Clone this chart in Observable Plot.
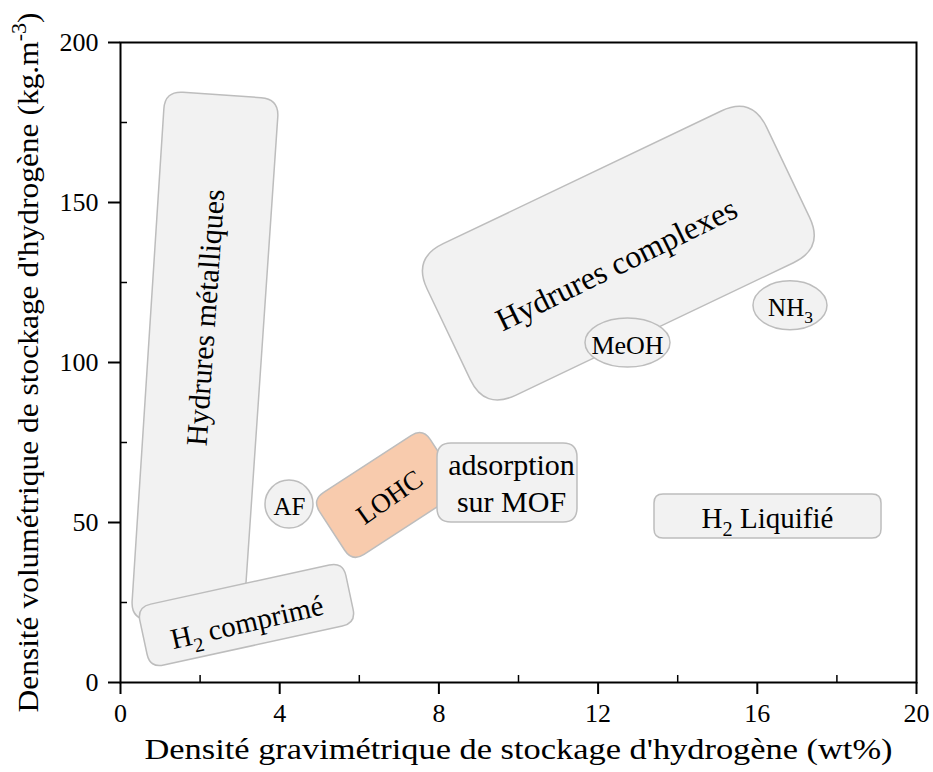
<!DOCTYPE html>
<html>
<head>
<meta charset="utf-8">
<script src="https://cdn.jsdelivr.net/npm/d3@7"></script>
<script src="https://cdn.jsdelivr.net/npm/@observablehq/plot@0.6"></script>
<style>
  body { margin: 0; background: #fff; }
</style>
</head>
<body>
<div id="chart"></div>
<script>
// ---- axis ticks ----
const xMajorTicks = [0, 4, 8, 12, 16, 20];
const xMinorTicks = [2, 6, 10, 14, 18];
const yMajorTicks = [0, 50, 100, 150, 200];
const yMinorTicks = [25, 75, 125, 175];

const xAxisLabel = "Densité gravimétrique de stockage d'hydrogène (wt%)";
const yAxisLabel = "Densité volumétrique de stockage d'hydrogène (kg.m^{-3})";

// ---- regions (rounded, possibly tilted rectangles): four corners in data units ----
const regionNames = ["Hydrures métalliques", "H2 comprimé", "Hydrures complexes", "LOHC", "adsorption sur MOF", "H2 Liquifié"];
const regionCornersX = [
  [1.131, 3.995, 3.090, 0.276],
  [0.427, 5.603, 5.930, 0.754],
  [7.349, 15.877, 17.693, 9.166],
  [4.822, 7.606, 8.621, 5.837],
  [7.965, 11.482, 11.482, 7.965],
  [13.417, 19.121, 19.121, 13.417]
];
const regionCornersY = [
  [184.7, 182.2, 17.2, 19.7],
  [23.4, 37.5, 18.4, 4.4],
  [132.4, 183.0, 135.6, 85.0],
  [56.9, 79.4, 60.0, 37.5],
  [74.7, 74.7, 50.0, 50.0],
  [58.75, 58.75, 45.0, 45.0]
];

// ---- elliptical regions: centre and half-extent in data units ----
const ellipseNames = ["AF", "MeOH", "NH3"];
const ellipseCX = [4.246, 12.751, 16.834];
const ellipseCY = [55.6, 106.1, 117.7];
const ellipseRX = [0.603, 1.068, 0.930];
const ellipseRY = [7.5, 7.66, 7.66];

// ---- labels ----
const labelTexts = ["Hydrures métalliques", "H_{2} comprimé", "Hydrures complexes", "LOHC", "adsorption\nsur MOF", "H_{2} Liquifié", "AF", "MeOH", "NH_{3}"];
const labelX = [2.085, 3.166, 12.437, 6.734, 9.824, 16.256, 4.246, 12.739, 16.834];
const labelY = [114.1, 19.4, 131.25, 58.4, 62.8, 51.9, 55.6, 105.9, 117.8];

// ---- styles (kept apart from data) ----
const regionStyle = {
  "Hydrures métalliques": {fill: "#F2F2F2", radius: 18},
  "H2 comprimé": {fill: "#F2F2F2", radius: 14},
  "Hydrures complexes": {fill: "#F2F2F2", radius: 34},
  "LOHC": {fill: "#F8CBAD", radius: 14},
  "adsorption sur MOF": {fill: "#F2F2F2", radius: 14},
  "H2 Liquifié": {fill: "#F2F2F2", radius: 9}
};
const labelStyle = [
  {rotate: -86, size: 30},
  {rotate: -13, size: 29},
  {rotate: -26, size: 32},
  {rotate: -35, size: 27},
  {rotate: 0, size: 30},
  {rotate: 0, size: 29},
  {rotate: 0, size: 25},
  {rotate: 0, size: 26},
  {rotate: 0, size: 25}
];
const shapeStroke = "#BDBDBD";

// ---- tables built from the arrays ----
const regions = regionNames.map((name, i) => ({name, xs: regionCornersX[i], ys: regionCornersY[i]}));
const ellipses = ellipseNames.map((name, i) => ({name, cx: ellipseCX[i], cy: ellipseCY[i], rx: ellipseRX[i], ry: ellipseRY[i]}));
const labels = labelTexts.map((text, i) => ({text, x: labelX[i], y: labelY[i], rotate: labelStyle[i].rotate, size: labelStyle[i].size}));

function roundedPath(pts, r) {
  const n = pts.length;
  let d = "";
  for (let i = 0; i < n; i++) {
    const p0 = pts[(i - 1 + n) % n], p1 = pts[i], p2 = pts[(i + 1) % n];
    const l0 = Math.hypot(p0[0] - p1[0], p0[1] - p1[1]);
    const l2 = Math.hypot(p2[0] - p1[0], p2[1] - p1[1]);
    const r0 = Math.min(r, l0 / 2), r2 = Math.min(r, l2 / 2);
    const a = [p1[0] + (p0[0] - p1[0]) * r0 / l0, p1[1] + (p0[1] - p1[1]) * r0 / l0];
    const b = [p1[0] + (p2[0] - p1[0]) * r2 / l2, p1[1] + (p2[1] - p1[1]) * r2 / l2];
    d += (i === 0 ? "M" : "L") + a[0] + "," + a[1] + "Q" + p1[0] + "," + p1[1] + " " + b[0] + "," + b[1];
  }
  return d + "Z";
}

function regionsMark(index, scales) {
  const g = d3.create("svg:g");
  for (const r of regions) {
    const st = regionStyle[r.name];
    const pts = r.xs.map((x, i) => [scales.x(x), scales.y(r.ys[i])]);
    g.append("path")
      .attr("d", roundedPath(pts, st.radius))
      .attr("fill", st.fill)
      .attr("stroke", shapeStroke)
      .attr("stroke-width", 1.5);
  }
  return g.node();
}

function ellipsesMark(index, scales) {
  const g = d3.create("svg:g");
  for (const e of ellipses) {
    const cx = scales.x(e.cx), cy = scales.y(e.cy);
    g.append("ellipse")
      .attr("cx", cx).attr("cy", cy)
      .attr("rx", Math.abs(scales.x(e.cx + e.rx) - cx))
      .attr("ry", Math.abs(scales.y(e.cy + e.ry) - cy))
      .attr("fill", "#F2F2F2")
      .attr("stroke", shapeStroke)
      .attr("stroke-width", 1.5);
  }
  return g.node();
}

const serif = "'Liberation Serif', 'Times New Roman', 'DejaVu Serif', serif";

const chart = Plot.plot({
  width: 933,
  height: 772,
  marginLeft: 120,
  marginRight: 17,
  marginTop: 42,
  marginBottom: 90,
  x: {domain: [0, 20]},
  y: {domain: [0, 200]},
  style: {fontFamily: serif, fontSize: "26px", color: "#000", background: "#fff"},
  marks: [
    regionsMark,
    ellipsesMark,
    Plot.text(labels, {x: "x", y: "y", text: "text", rotate: "rotate", fontSize: "size", lineHeight: 1.25, fill: "#000", fontFamily: serif}),
    Plot.frame({stroke: "#000", strokeWidth: 2}),
    Plot.axisX(xMajorTicks, {tickSize: 12, tickPadding: 9, label: null, strokeWidth: 2, fontSize: 26}),
    Plot.axisX(xMinorTicks, {tickSize: 7, dy: -7, fill: "none", label: null, strokeWidth: 1.5}),
    Plot.axisY(yMajorTicks, {tickSize: 12, tickPadding: 10, label: null, strokeWidth: 2, fontSize: 26}),
    Plot.axisY(yMinorTicks, {tickSize: 7, dx: 7, fill: "none", label: null, strokeWidth: 1.5}),
    Plot.text([xAxisLabel], {text: d => d, frameAnchor: "bottom", textAnchor: "middle", lineAnchor: "middle", dy: 67, fontSize: 30, fill: "#000"}),
    Plot.text([yAxisLabel], {text: d => d, frameAnchor: "left", textAnchor: "middle", lineAnchor: "middle", rotate: -90, dx: -92, fontSize: 29, fill: "#000"})
  ]
});

// stretch the axis titles to the reference's width
chart.querySelectorAll("text").forEach(el => {
  if (el.textContent === xAxisLabel) {
    el.setAttribute("textLength", 748);
    el.setAttribute("lengthAdjust", "spacingAndGlyphs");
  } else if (el.textContent === yAxisLabel) {
    el.setAttribute("textLength", 700);
    el.setAttribute("lengthAdjust", "spacingAndGlyphs");
  }
});

// subscripts / superscripts written as _{..} and ^{..}
function scriptify(el) {
  const s = el.textContent;
  if (!/[_^]\{/.test(s)) return;
  while (el.firstChild) el.removeChild(el.firstChild);
  const ns = "http://www.w3.org/2000/svg";
  const re = /([_^])\{([^}]*)\}/g;
  let last = 0, m, reset = null;
  const add = (txt, dy, small) => {
    if (!txt) return;
    const t = document.createElementNS(ns, "tspan");
    if (dy) t.setAttribute("dy", dy);
    if (small) t.setAttribute("font-size", "70%");
    t.textContent = txt;
    el.appendChild(t);
  };
  while ((m = re.exec(s))) {
    add(s.slice(last, m.index), reset, false);
    if (m[1] === "_") { add(m[2], "0.4em", true); reset = "-0.28em"; }
    else { add(m[2], "-0.6em", true); reset = "0.42em"; }
    last = re.lastIndex;
  }
  add(s.slice(last), reset, false);
}
chart.querySelectorAll("text").forEach(scriptify);

document.getElementById("chart").appendChild(chart);
</script>
</body>
</html>
